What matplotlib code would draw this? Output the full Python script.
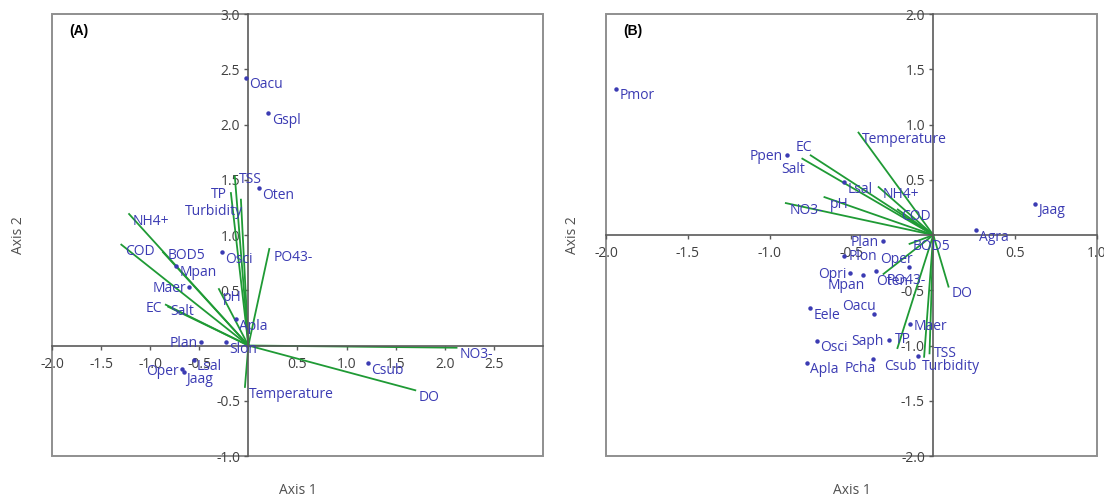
import matplotlib.pyplot as plt
from matplotlib.patches import Rectangle

plt.rcParams['font.family'] = ['Open Sans', 'DejaVu Sans']

# ---- panel A: environmental vectors ----
env_a = ["NO3-", "DO", "Temperature", "PO43-", "TSS", "TP", "Turbidity",
         "NH4+", "COD", "BOD5", "pH", "EC", "Salt"]
env_a_x = [2.12, 1.70, -0.035, 0.213, -0.138, -0.178, -0.076,
           -1.215, -1.294, -0.869, -0.30, -0.841, -0.817]
env_a_y = [-0.02, -0.405, -0.375, 0.874, 1.53, 1.38, 1.32,
           1.19, 0.913, 0.844, 0.511, 0.369, 0.351]

# ---- panel A: species ----
spp_a = ["Oacu", "Gspl", "Oten", "Osci", "Mpan", "Maer", "Apla",
         "Plan", "Slon", "Oper", "Lsal", "Jaag", "Csub"]
spp_a_x = [-0.025, 0.203, 0.107, -0.273, -0.739, -0.606, -0.131,
           -0.484, -0.229, -0.671, -0.552, -0.657, 1.215]
spp_a_y = [2.425, 2.10, 1.424, 0.844, 0.723, 0.532, 0.239,
           0.030, 0.030, -0.215, -0.133, -0.236, -0.160]

# ---- panel B: environmental vectors ----
env_b = ["Temperature", "EC", "Salt", "NH4+", "COD", "NO3-", "pH",
         "BOD5", "PO43-", "DO", "TP", "TSS", "Turbidity"]
env_b_x = [-0.457, -0.749, -0.80, -0.334, -0.217, -0.901, -0.665,
           -0.145, -0.304, 0.093, -0.219, -0.023, -0.056]
env_b_y = [0.927, 0.721, 0.691, 0.434, 0.231, 0.289, 0.343,
           -0.080, -0.352, -0.467, -1.023, -1.071, -1.102]

# ---- panel B: species ----
spp_b = ["Pmor", "Ppen", "Lsal", "Jaag", "Agra", "Plan", "Plon", "Oper",
         "Opri", "Mpan", "Oten", "Eele", "Oacu", "Maer", "Osci", "Saph",
         "Apla", "Pcha", "Csub"]
spp_b_x = [-1.941, -0.895, -0.545, 0.619, 0.260, -0.309, -0.545, -0.151,
           -0.508, -0.427, -0.351, -0.753, -0.360, -0.145, -0.712, -0.272,
           -0.773, -0.366, -0.094]
spp_b_y = [1.326, 0.721, 0.479, 0.283, 0.041, -0.050, -0.186, -0.292,
           -0.346, -0.358, -0.322, -0.661, -0.715, -0.806, -0.957, -0.951,
           -1.154, -1.123, -1.099]

# label placement (pixels: dx right, dy down to text centre, alignment)
DEFAULT_OFF = (3.5, 6.7, 'left')
off_env_a = {"TSS": (4.3, 3, 'left'), "TP": (-4.3, 1.3, 'right'),
             "Turbidity": (2.3, 11, 'right'), "BOD5": (4.3, 2.3, 'left'),
             "EC": (-3.3, 3.3, 'right'), "Salt": (2.3, 4.7, 'left'),
             "PO43-": (4, 7.7, 'left'), "pH": (4.3, 7.7, 'left')}
off_spp_a = {"Maer": (-3, 1.3, 'right'), "Plan": (-2.7, 1, 'right'),
             "Oper": (-3.3, 1.7, 'right'), "Lsal": (2.3, 5.7, 'left'),
             "Jaag": (2.7, 7.3, 'left')}
off_env_b = {"EC": (1, -8.3, 'right'), "Salt": (2.3, 10, 'right'),
             "pH": (5, 6.7, 'left'), "BOD5": (3.3, 1.7, 'left'),
             "PO43-": (2.7, 6, 'left'), "TP": (-3, -9, 'left'),
             "TSS": (4, 0, 'left'), "Turbidity": (-2.3, 9.7, 'left')}
off_spp_b = {"Ppen": (-4, 1, 'right'), "Plan": (-4.3, 1.7, 'right'),
             "Plon": (4.3, 0.7, 'left'), "Oper": (4.3, -8.3, 'right'),
             "Opri": (-3.3, 0.7, 'right'), "Mpan": (1.7, 10, 'right'),
             "Oten": (0, 10, 'left'), "Oacu": (1.7, -7.7, 'right'),
             "Maer": (4, 1.7, 'left'), "Saph": (-4.7, 1.3, 'right'),
             "Pcha": (2.7, 9, 'right'), "Csub": (-1, 10, 'right')}

BLUE = '#3b3bb3'
GREEN = '#1f9a35'
FS = 10


def put_label(ax, name, x, y, offs):
    dx, dy, ha = offs.get(name, DEFAULT_OFF)
    ax.annotate(name, (x, y), xytext=(dx, -dy - 4), textcoords='offset pixels',
                ha=ha, va='baseline', color=BLUE, fontsize=FS, zorder=4)


def draw(ax, tag, xlim, ylim, xt, yt, env, ex, ey, spp, sx, sy, oe, osp):
    ax.set_xlim(*xlim)
    ax.set_ylim(*ylim)
    for name, x, y in zip(env, ex, ey):
        ax.plot([0, x], [0, y], color=GREEN, lw=1.3, zorder=2)
        put_label(ax, name, x, y, oe)
    ax.plot(sx, sy, 'o', ms=2.2, color=BLUE, zorder=3, clip_on=False)
    for name, x, y in zip(spp, sx, sy):
        put_label(ax, name, x, y, osp)

    for s in ['top', 'right']:
        ax.spines[s].set_visible(False)
    ax.spines['left'].set_position(('data', 0))
    ax.spines['bottom'].set_position(('data', 0))
    for s in ['left', 'bottom']:
        ax.spines[s].set_color('#5a5a5a')
        ax.spines[s].set_linewidth(1.2)
    ax.add_patch(Rectangle((0, 0), 1, 1, transform=ax.transAxes, fill=False,
                           ec='#8f8f8f', lw=1.4, clip_on=False, zorder=1))

    ax.set_xticks(xt)
    ax.set_xticklabels([f"{t:.1f}" for t in xt])
    ax.set_yticks(yt)
    ax.set_yticklabels([f"{t:.1f}" for t in yt])
    ax.tick_params(direction='out', length=3, width=1, colors='#5a5a5a',
                   labelcolor='#404040', labelsize=FS, pad=3)
    ax.tick_params(axis='x', pad=5)

    ax.text(0.035, 0.962, tag, transform=ax.transAxes, fontsize=FS,
            fontweight='bold', family='Liberation Sans', va='center')
    ax.text(0.5, -0.077, "Axis 1", transform=ax.transAxes, ha='center',
            va='center', fontsize=FS, color='#505050')
    ax.text(-0.068, 0.5, "Axis 2", transform=ax.transAxes, ha='center',
            va='center', rotation=90, fontsize=FS, color='#505050')


fig = plt.figure(figsize=(11.04, 4.94), dpi=100)
ax_a = fig.add_axes([0.0471, 0.0769, 0.4447, 0.8947])
ax_b = fig.add_axes([0.5489, 0.0769, 0.4447, 0.8947])

draw(ax_a, "(A)", (-2, 3), (-1, 3),
     [-2.0, -1.5, -1.0, -0.5, 0.5, 1.0, 1.5, 2.0, 2.5],
     [-1.0, -0.5, 0.5, 1.0, 1.5, 2.0, 2.5, 3.0],
     env_a, env_a_x, env_a_y, spp_a, spp_a_x, spp_a_y, off_env_a, off_spp_a)
draw(ax_b, "(B)", (-2, 1), (-2, 2),
     [-2.0, -1.5, -1.0, -0.5, 0.5, 1.0],
     [-2.0, -1.5, -1.0, -0.5, 0.5, 1.0, 1.5, 2.0],
     env_b, env_b_x, env_b_y, spp_b, spp_b_x, spp_b_y, off_env_b, off_spp_b)

fig.savefig("out.png", dpi=100)
